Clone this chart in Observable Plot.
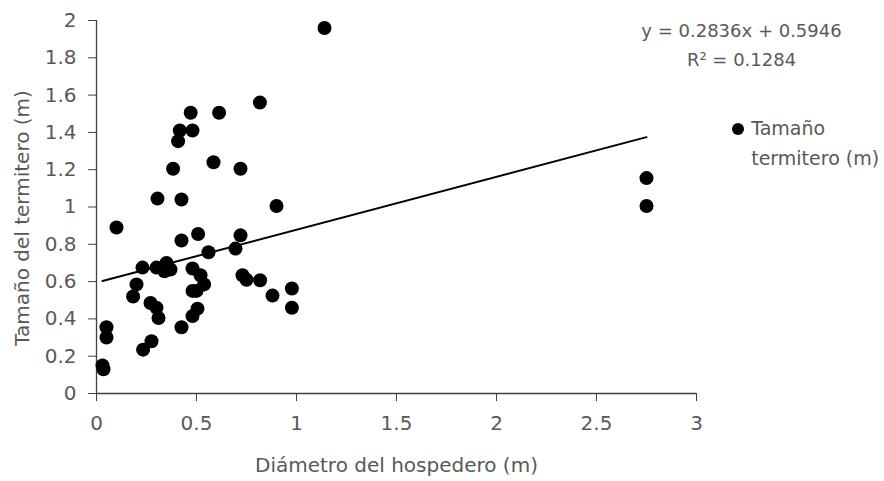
<!DOCTYPE html>
<html>
<head>
<meta charset="utf-8">
<script src="https://cdn.jsdelivr.net/npm/d3@7"></script>
<script src="https://cdn.jsdelivr.net/npm/@observablehq/plot@0.6"></script>
<style>
  html, body { margin: 0; padding: 0; background: #fff; }
</style>
</head>
<body>
<div id="chart"></div>
<script>
// Diámetro del hospedero (m)
const diametro = [0.03, 0.035, 0.05, 0.05, 0.10, 0.183, 0.20, 0.23, 0.233, 0.275,
  0.27, 0.30, 0.30, 0.31, 0.305, 0.35, 0.34, 0.37, 0.383, 0.408,
  0.4165, 0.425, 0.425, 0.425, 0.471, 0.48, 0.48, 0.48, 0.50, 0.52,
  0.538, 0.505, 0.48, 0.508, 0.56, 0.585, 0.613, 0.695, 0.72, 0.72,
  0.73, 0.75, 0.818, 0.817, 0.88, 0.90, 0.977, 0.977, 1.14, 2.75, 2.75];
// Tamaño termitero (m)
const tamano = [0.15, 0.13, 0.355, 0.30, 0.89, 0.52, 0.585, 0.675, 0.235, 0.28,
  0.485, 0.675, 0.46, 0.405, 1.045, 0.70, 0.655, 0.665, 1.205, 1.353,
  1.41, 1.04, 0.82, 0.355, 1.505, 1.41, 0.67, 0.55, 0.55, 0.634,
  0.585, 0.455, 0.415, 0.855, 0.757, 1.24, 1.505, 0.777, 0.848, 1.205,
  0.634, 0.61, 0.607, 1.56, 0.525, 1.005, 0.563, 0.46, 1.96, 1.155, 1.005];

const slope = 0.2836;
const intercept = 0.5946;
const equationLines = ["y = 0.2836x + 0.5946", "R² = 0.1284"];
const legendLines = ["Tamaño", "termitero (m)"];
const xTitle = "Diámetro del hospedero (m)";
const yTitle = "Tamaño del termitero (m)";
const xTicks = [0, 0.5, 1, 1.5, 2, 2.5, 3];
const yTicks = [0, 0.2, 0.4, 0.6, 0.8, 1, 1.2, 1.4, 1.6, 1.8, 2];

const points = diametro.map((x, i) => ({x, y: tamano[i]}));
const xExt = d3.extent(diametro);
const trend = xExt.map(x => ({x, y: slope * x + intercept}));

const axisColor = "#404040";
const textColor = "#595959";

const chart = Plot.plot({
  width: 884,
  height: 481,
  marginLeft: 96,
  marginRight: 188,
  marginTop: 20,
  marginBottom: 88,
  style: {fontFamily: "DejaVu Sans", fontSize: "20px", color: textColor, background: "#fff"},
  x: {domain: [0, 3]},
  y: {domain: [0, 2]},
  marks: [
    Plot.axisX({ticks: xTicks, tickFormat: d => String(d), tickSize: 8, tickPadding: 14, stroke: axisColor, fill: textColor, label: null}),
    Plot.axisY({ticks: yTicks, tickFormat: d => String(d), tickSize: 8, tickPadding: 12, stroke: axisColor, fill: textColor, label: null}),
    Plot.ruleY([0], {stroke: axisColor, strokeWidth: 1.3}),
    Plot.ruleX([0], {stroke: axisColor, strokeWidth: 1.3}),
    Plot.dot(points, {x: "x", y: "y", r: 7, fill: "black"}),
    Plot.line(trend, {x: "x", y: "y", stroke: "black", strokeWidth: 2}),
    Plot.text([xTitle], {frameAnchor: "bottom", dy: 72, fontSize: 20, fill: textColor, textAnchor: "middle", lineAnchor: "middle"}),
    Plot.text([yTitle], {frameAnchor: "left", rotate: -90, dx: -73.5, dy: 11, fontSize: 20, fill: textColor, textAnchor: "middle", lineAnchor: "middle"}),
    Plot.text([equationLines[0]], {frameAnchor: "top-right", dx: 45, dy: 11, fontSize: 18, fill: textColor, textAnchor: "middle", lineAnchor: "middle"}),
    Plot.text([equationLines[1]], {frameAnchor: "top-right", dx: 45, dy: 40, fontSize: 18, fill: textColor, textAnchor: "middle", lineAnchor: "middle"}),
    Plot.dot([legendLines[0]], {frameAnchor: "top-right", dx: 41.5, dy: 108.5, r: 6, fill: "black"}),
    Plot.text([legendLines[0]], {frameAnchor: "top-right", dx: 54.7, dy: 108, fontSize: 19, fill: textColor, textAnchor: "start", lineAnchor: "middle"}),
    Plot.text([legendLines[1]], {frameAnchor: "top-right", dx: 54.7, dy: 138.6, fontSize: 19, fill: textColor, textAnchor: "start", lineAnchor: "middle"})
  ]
});
document.getElementById("chart").appendChild(chart);
</script>
</body>
</html>
